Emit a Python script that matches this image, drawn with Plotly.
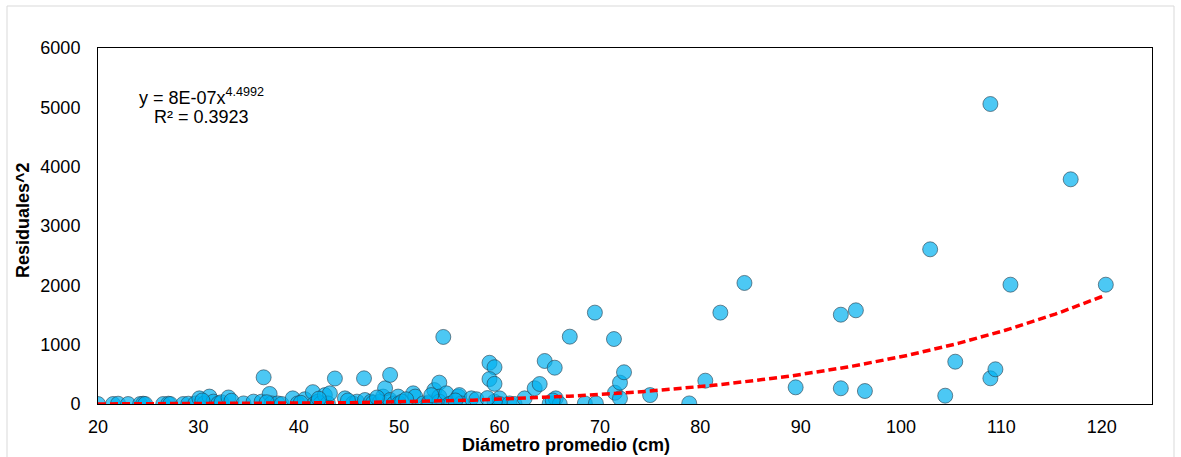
import numpy as np
import plotly.graph_objects as go

# Diámetro promedio (cm)
diametro = [20.0, 21.5, 22.0, 23.0, 24.2, 24.5, 24.7, 26.5, 27.0, 27.2, 28.5, 29.0,
            29.7, 30.1, 30.6, 31.1, 31.5, 32.0, 32.3, 33.0, 33.3, 34.5, 35.5, 36.3,
            36.5, 37.1, 37.3, 37.9, 38.3, 39.4, 39.9, 40.6, 41.4, 41.6, 41.9, 42.2,
            42.6, 42.9, 43.1, 43.6, 44.6, 45.4, 45.8, 46.5, 46.6, 47.2, 47.4, 48.1,
            48.4, 48.6, 49.1, 49.1, 49.5, 49.9, 50.0, 50.3, 51.4, 51.6, 52.4, 52.9,
            53.0, 53.5, 54.0, 54.0, 54.0, 54.4, 54.7, 55.0, 55.2, 55.9, 56.0, 56.2,
            57.2, 57.7, 59.0, 59.5, 59.0, 59.5, 59.5, 60.0, 60.0, 61.0, 61.5, 62.5,
            63.5, 64.0, 64.5, 65.0, 65.5, 65.6, 66.0, 67.0, 68.5, 69.5, 69.6, 71.4,
            71.5, 72.0, 72.4, 72.0, 75.0, 78.9, 80.5, 82.0, 84.4, 89.5, 94.0, 94.0,
            95.5, 96.4, 102.9, 104.4, 105.4, 108.9, 108.9, 109.4, 110.9, 116.9, 120.4,
            30.4, 36.8, 40.2, 42.0, 44.9, 47.8, 50.7, 53.2, 55.6, 58.8, 65.3]

# Residuales^2
residuales2 = [0, 0, 5, 0, 0, 5, 0, 0, 5, 0, 0, 5,
               10, 95, 10, 125, 40, 10, 30, 110, 55, 10, 40, 40,
               450, 170, 10, 10, 0, 95, 10, 80, 200, 10, 40, 10,
               150, 10, 180, 430, 95, 10, 40, 433, 67, 40, 20, 40,
               125, 265, 490, 67, 10, 125, 10, 40, 180, 125, 10, 0,
               30, 235, 360, 125, 40, 1130, 180, 0, 10, 125, 150, 10,
               95, 80, 695, 620, 420, 340, 40, 95, 0, 10, 0, 95,
               265, 337, 725, 10, 612, 95, 0, 1135, 10, 1540, 10, 1095,
               190, 360, 535, 95, 150, 10, 393, 1540, 2040, 281, 1505, 265,
               1579, 219, 2607, 140, 713, 5056, 433, 585, 2011, 3787, 2011,
               60, 30, 20, 90, 60, 110, 80, 150, 60, 100, 60]

# Power trendline as reported on the chart
coef_a = 8e-07
coef_b = 4.4992
eq_text = "y = 8E-07x<sup>4.4992</sup>"
r2_text = "R² = 0.3923"

x_ticks = [20, 30, 40, 50, 60, 70, 80, 90, 100, 110, 120]
y_ticks = [0, 1000, 2000, 3000, 4000, 5000, 6000]

xt = np.linspace(min(diametro), max(diametro), 200)
yt = coef_a * xt ** coef_b

FONT = "Liberation Sans, Arial, sans-serif"
FS = 18

fig = go.Figure()
fig.add_trace(go.Scatter(
    x=diametro, y=residuales2, mode="markers",
    marker=dict(size=15, color="rgba(0,176,240,0.70)",
                line=dict(color="rgba(40,60,75,0.6)", width=1)),
    showlegend=False, hoverinfo="x+y"))
fig.add_trace(go.Scatter(
    x=xt, y=yt, mode="lines",
    line=dict(color="#FF0000", width=3.5, dash="8px,4px"),
    showlegend=False, hoverinfo="skip"))

W, H = 1181, 457
# plot area in page pixels
L, R, T, B = 98, 1152, 48, 404
pw, ph = R - L, B - T

def px(xp):
    return (xp - L) / pw

def py(yp):
    return (B - yp) / ph

fig.update_layout(
    width=W, height=H,
    margin=dict(l=L, r=W - R, t=T, b=H - B, pad=0),
    paper_bgcolor="white", plot_bgcolor="white",
    font=dict(family=FONT, size=FS, color="black"),
    xaxis=dict(range=[20, 125], tickvals=x_ticks, showgrid=False, zeroline=False,
               showline=True, linecolor="black", linewidth=1, mirror=True,
               ticks="outside", ticklen=6, tickcolor="rgba(0,0,0,0)",
               tickfont=dict(family=FONT, size=FS, color="black")),
    yaxis=dict(range=[0, 6000], tickvals=y_ticks, showgrid=False, zeroline=False,
               showline=True, linecolor="black", linewidth=1, mirror=True,
               ticks="outside", ticklen=13, tickcolor="rgba(0,0,0,0)",
               tickfont=dict(family=FONT, size=FS, color="black")),
    shapes=[dict(type="rect", xref="paper", yref="paper",
                 x0=px(7), x1=px(1174), y0=py(470), y1=py(6),
                 line=dict(color="#D9D9D9", width=1), fillcolor="rgba(0,0,0,0)",
                 layer="below")],
    annotations=[
        dict(text="<b>Diámetro promedio (cm)</b>", xref="paper", yref="paper",
             x=px(566), y=py(445), showarrow=False,
             font=dict(family=FONT, size=FS, color="black"),
             xanchor="center", yanchor="middle"),
        dict(text="<b>Residuales^2</b>", xref="paper", yref="paper",
             x=px(23), y=py(220), showarrow=False, textangle=-90,
             font=dict(family=FONT, size=FS, color="black"),
             xanchor="center", yanchor="middle"),
        dict(text=eq_text, xref="paper", yref="paper",
             x=px(137), y=py(96), showarrow=False,
             font=dict(family=FONT, size=FS, color="black"),
             xanchor="left", yanchor="middle"),
        dict(text=r2_text, xref="paper", yref="paper",
             x=px(152), y=py(117), showarrow=False,
             font=dict(family=FONT, size=FS, color="black"),
             xanchor="left", yanchor="middle"),
    ],
)

fig.write_html(
    "out.html",
    config={"displayModeBar": False},
    post_script="document.body.style.margin='0';document.documentElement.style.overflow='hidden';document.body.style.overflow='hidden';",
)
